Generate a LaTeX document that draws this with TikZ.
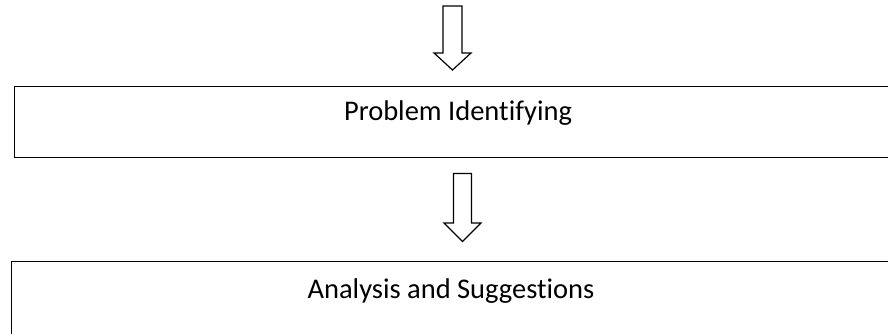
\documentclass[tikz,border=0pt]{standalone}
\usepackage{fontspec}
\setmainfont{Carlito}[Ligatures={NoCommon}]
\usetikzlibrary{calc}
\begin{document}
\begin{tikzpicture}[x=1pt,y=-1pt,
  boxstyle/.style={draw=black,line width=1.4pt,rectangle,inner sep=0pt},
  labelstyle/.style={font=\fontsize{28.5}{34}\selectfont,anchor=base,inner sep=0pt},
  hollowarrow/.style={draw=black,line width=1.2pt,line join=miter,fill=white}]
\useasboundingbox (0,0) rectangle (888,334);
\clip (0,0) rectangle (888,334);
% boxes (extend beyond right/bottom edges as in the reference)
\node[boxstyle,minimum width=890pt,minimum height=71pt,anchor=north west] (b1) at (14,86) {};
\node[labelstyle] (t1) at (458,121) {Problem Identifying};
\node[boxstyle,minimum width=890pt,minimum height=80pt,anchor=north west] (b2) at (11,261) {};
\node[labelstyle] (t2) at (451,298) {Analysis and Suggestions};
% arrow 1 (entering from above)
\coordinate (a1) at (452.5,70);
\draw[hollowarrow] ($(a1)+(-9.5,-64)$) -- ($(a1)+(-9.5,-17)$) -- ($(a1)+(-18.5,-17)$) -- (a1)
  -- ($(a1)+(18.5,-17)$) -- ($(a1)+(9.5,-17)$) -- ($(a1)+(9.5,-64)$) -- cycle;
% arrow 2 between boxes
\coordinate (a2) at (462.5,241.5);
\draw[hollowarrow] ($(a2)+(-9,-68)$) -- ($(a2)+(-9,-18.5)$) -- ($(a2)+(-18.5,-18.5)$) -- (a2)
  -- ($(a2)+(18.5,-18.5)$) -- ($(a2)+(9,-18.5)$) -- ($(a2)+(9,-68)$) -- cycle;
\end{tikzpicture}
\end{document}
